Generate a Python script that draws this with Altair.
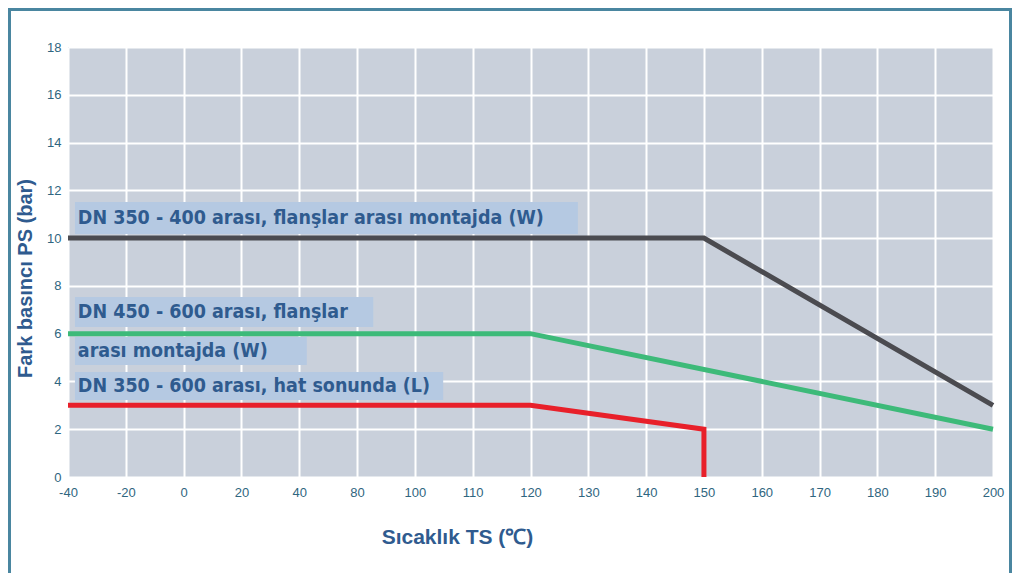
import altair as alt
import pandas as pd

# x-axis tick labels (equally spaced categories as drawn)
x_labels = [-40, -20, 0, 20, 40, 80, 100, 110, 120, 130, 140, 150, 160, 170, 180, 190, 200]
y_ticks = [0, 2, 4, 6, 8, 10, 12, 14, 16, 18]

# series (temperature °C, pressure bar)
black_t = [-40, 150, 200]
black_p = [10, 10, 3]
green_t = [-40, 120, 200]
green_p = [6, 6, 2]
red_t = [-40, 120, 150, 150]
red_p = [3, 3, 2, 0]

series_names = ["W400", "W600", "L"]
series_colors = ["#4b4b50", "#3dba79", "#e8202a"]

labels_text = [
    "DN 350 - 400 arası, flanşlar arası montajda (W)",
    "DN 450 - 600 arası, flanşlar",
    "arası montajda (W)",
    "DN 350 - 600 arası, hat sonunda (L)",
]
# annotation boxes in axis units (index, bar)
box_x0 = [0.12, 0.12, 0.12, 0.12]
box_x1 = [8.82, 5.28, 4.13, 6.49]
box_y0 = [10.17, 6.28, 4.69, 3.22]
box_y1 = [11.51, 7.53, 5.86, 4.40]
text_x = [0.17, 0.17, 0.17, 0.17]
text_y = [10.84, 6.91, 5.27, 3.81]

rows = []
for name, ts, ps in [("W400", black_t, black_p), ("W600", green_t, green_p), ("L", red_t, red_p)]:
    for i, (t, p) in enumerate(zip(ts, ps)):
        rows.append({"series": name, "idx": x_labels.index(t), "p": p, "o": i})
df = pd.DataFrame(rows)

ann = pd.DataFrame({
    "text": labels_text, "x0": box_x0, "x1": box_x1, "y0": box_y0, "y1": box_y1,
    "tx": text_x, "ty": text_y,
})

label_expr = "[" + ",".join(f"'{v}'" for v in x_labels) + "][datum.value]"

xscale = alt.Scale(domain=[0, len(x_labels) - 1], nice=False, zero=False)
yscale = alt.Scale(domain=[0, 18], nice=False)

x_axis = alt.Axis(
    values=list(range(len(x_labels))), labelExpr=label_expr, title="Sıcaklık TS (℃)",
    grid=True, gridColor="white", gridWidth=2, domain=False, ticks=False,
    labelFont="Liberation Sans", labelFontSize=13, labelFontWeight="normal", labelColor="#2f6680",
    labelPadding=9, labelFlush=False,
    titleFont="Liberation Sans", titleFontSize=21, titleFontWeight="bold", titleColor="#2f5b8f",
    titleX=389, titleY=66, titleBaseline="alphabetic", titleAnchor="start", titleAlign="center",
)
y_axis = alt.Axis(
    values=y_ticks, title="Fark basıncı PS (bar)",
    grid=True, gridColor="white", gridWidth=2, domain=False, ticks=False,
    labelFont="Liberation Sans", labelFontSize=13, labelFontWeight="normal", labelColor="#2f6680",
    labelPadding=7,
    titleFont="Liberation Sans", titleFontSize=20, titleFontWeight="bold", titleColor="#2f5b8f",
    titleX=-43, titleY=231, titleAngle=-90, titleBaseline="middle", titleAlign="center",
)

base = alt.Chart(df)
lines = base.mark_line(strokeWidth=5, strokeCap="butt", strokeJoin="miter", clip=False).encode(
    x=alt.X("idx:Q", scale=xscale, axis=x_axis),
    y=alt.Y("p:Q", scale=yscale, axis=y_axis),
    color=alt.Color("series:N", scale=alt.Scale(domain=series_names, range=series_colors), legend=None),
    order="o:Q",
)

boxes = alt.Chart(ann).mark_rect(color="#b5c9e2").encode(
    x=alt.X("x0:Q", scale=xscale), x2="x1:Q",
    y=alt.Y("y0:Q", scale=yscale), y2="y1:Q",
)
texts = alt.Chart(ann).mark_text(
    align="left", baseline="middle", font="DejaVu Sans Condensed, Liberation Sans",
    fontSize=19.5, fontWeight="bold", color="#2f5b8f",
).encode(
    x=alt.X("tx:Q", scale=xscale), y=alt.Y("ty:Q", scale=yscale), text="text:N",
)

frame_color = "#4a86a0"
frame_left = alt.Chart(df).mark_rule(color=frame_color, strokeWidth=3).encode(
    x=alt.value(-59), y=alt.value(-38), y2=alt.value(530))
frame_right = alt.Chart(df).mark_rule(color=frame_color, strokeWidth=3).encode(
    x=alt.value(943), y=alt.value(-38), y2=alt.value(530))
frame_top = alt.Chart(df).mark_rule(color=frame_color, strokeWidth=3).encode(
    x=alt.value(-60.5), x2=alt.value(944.5), y=alt.value(-38))

chart = alt.layer(lines, boxes, texts, frame_left, frame_right, frame_top).properties(
    width=925, height=430,
    autosize=alt.AutoSizeParams(type="none"),
    padding={"left": 60, "top": 39, "right": 19, "bottom": 96},
    background="white",
).configure_view(fill="#c9d0db", stroke=None)

chart.save("out.html", embed_options={"renderer": "svg", "actions": False})
